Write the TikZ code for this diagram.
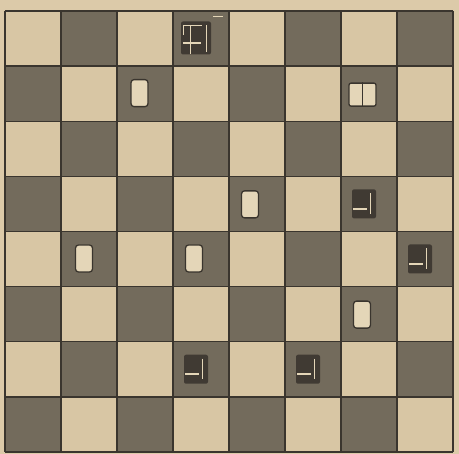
\documentclass[tikz,border=0pt]{standalone}
\usetikzlibrary{calc}
\definecolor{paper}{HTML}{DCCAA9}
\definecolor{lightsq}{HTML}{D8C6A4}
\definecolor{darksq}{HTML}{736B5C}
\definecolor{ink}{HTML}{3A352E}
\definecolor{pale}{HTML}{E4D6B8}
\tikzset{
  gridline/.style={draw=ink, line width=1.4pt},
  darkfill/.style={fill=darksq},
  wpiece/.style={draw=ink, line width=1.3pt, fill=pale, rounded corners=3pt,
    minimum width=17pt, minimum height=27pt, inner sep=0pt},
  bpiece/.style={fill=ink!90!darksq, rounded corners=2pt,
    minimum width=24pt, minimum height=29pt, inner sep=0pt},
  shine/.style={draw=pale, line width=2.2pt},
  thinshine/.style={draw=pale, line width=1.2pt},
}
\begin{document}
\begin{tikzpicture}[x=1pt,y=-1pt]
\useasboundingbox (0,0) rectangle (459,454);
\fill[paper] (0,0) rectangle (459,454);
% board
\fill[lightsq] (5,11) rectangle (453,452);
\foreach \r in {0,...,7}{
  \foreach \c in {0,...,7}{
    \pgfmathtruncatemacro\parity{mod(\r+\c,2)}
    \ifnum\parity=1
      \fill[darkfill] ({5+56*\c},{11+55.125*\r}) rectangle ++(56,55.125);
    \fi
  }
}
\foreach \i in {0,...,8}{
  \draw[gridline] ({5+56*\i},11) -- ({5+56*\i},452);
  \draw[gridline] (5,{11+55.125*\i}) -- (453,{11+55.125*\i});
}
% white pieces (col,row)
\node[wpiece] (w1) at ({5+56*2+22.5},{11+55.125*1+27}) {};
\node[wpiece] (w3) at ({5+56*4+21},{11+55.125*3+28}) {};
\node[wpiece] (w4) at ({5+56*1+23},{11+55.125*4+27}) {};
\node[wpiece] (w5) at ({5+56*3+21},{11+55.125*4+27}) {};
\node[wpiece] (w6) at ({5+56*6+21},{11+55.125*5+28}) {};
% white king
\node[wpiece, minimum width=27pt, minimum height=23pt, rounded corners=2pt] (wk) at ({5+56*6+21.5},{11+55.125*1+28.5}) {};
\draw[ink, line width=1pt] (wk.north) -- (wk.south);
% black pieces
\foreach \nm/\c/\r in {b1/6/3, b2/7/4, b3/3/6, b4/5/6}{
  \node[bpiece] (\nm) at ({5+56*\c+23},{11+55.125*\r+27.5}) {};
  \draw[shine] ($(\nm.west)+(1,5)$) -- ++(14,0);
  \draw[thinshine] ($(\nm.north east)+(-6,4)$) -- ($(\nm.south east)+(-6,-5)$);
}
% black king
\node[bpiece, minimum width=30pt, minimum height=33pt] (bk) at ({5+56*3+23},{11+27}) {};
\draw[thinshine] ($(bk.north west)+(3,4)$) -- ++(18,0);
\draw[thinshine] ($(bk.north west)+(3,4)$) -- ++(0,10);
\draw[shine] ($(bk.west)+(2,5)$) -- ++(18,0);
\draw[thinshine] ($(bk.north west)+(10,4)$) -- ($(bk.south west)+(10,-1)$);
\draw[thinshine] ($(bk.north east)+(-5,4)$) -- ($(bk.south east)+(-5,-3)$);
\draw[thinshine] ($(bk.north east)+(2,-5)$) -- ++(10,0);
\end{tikzpicture}
\end{document}
